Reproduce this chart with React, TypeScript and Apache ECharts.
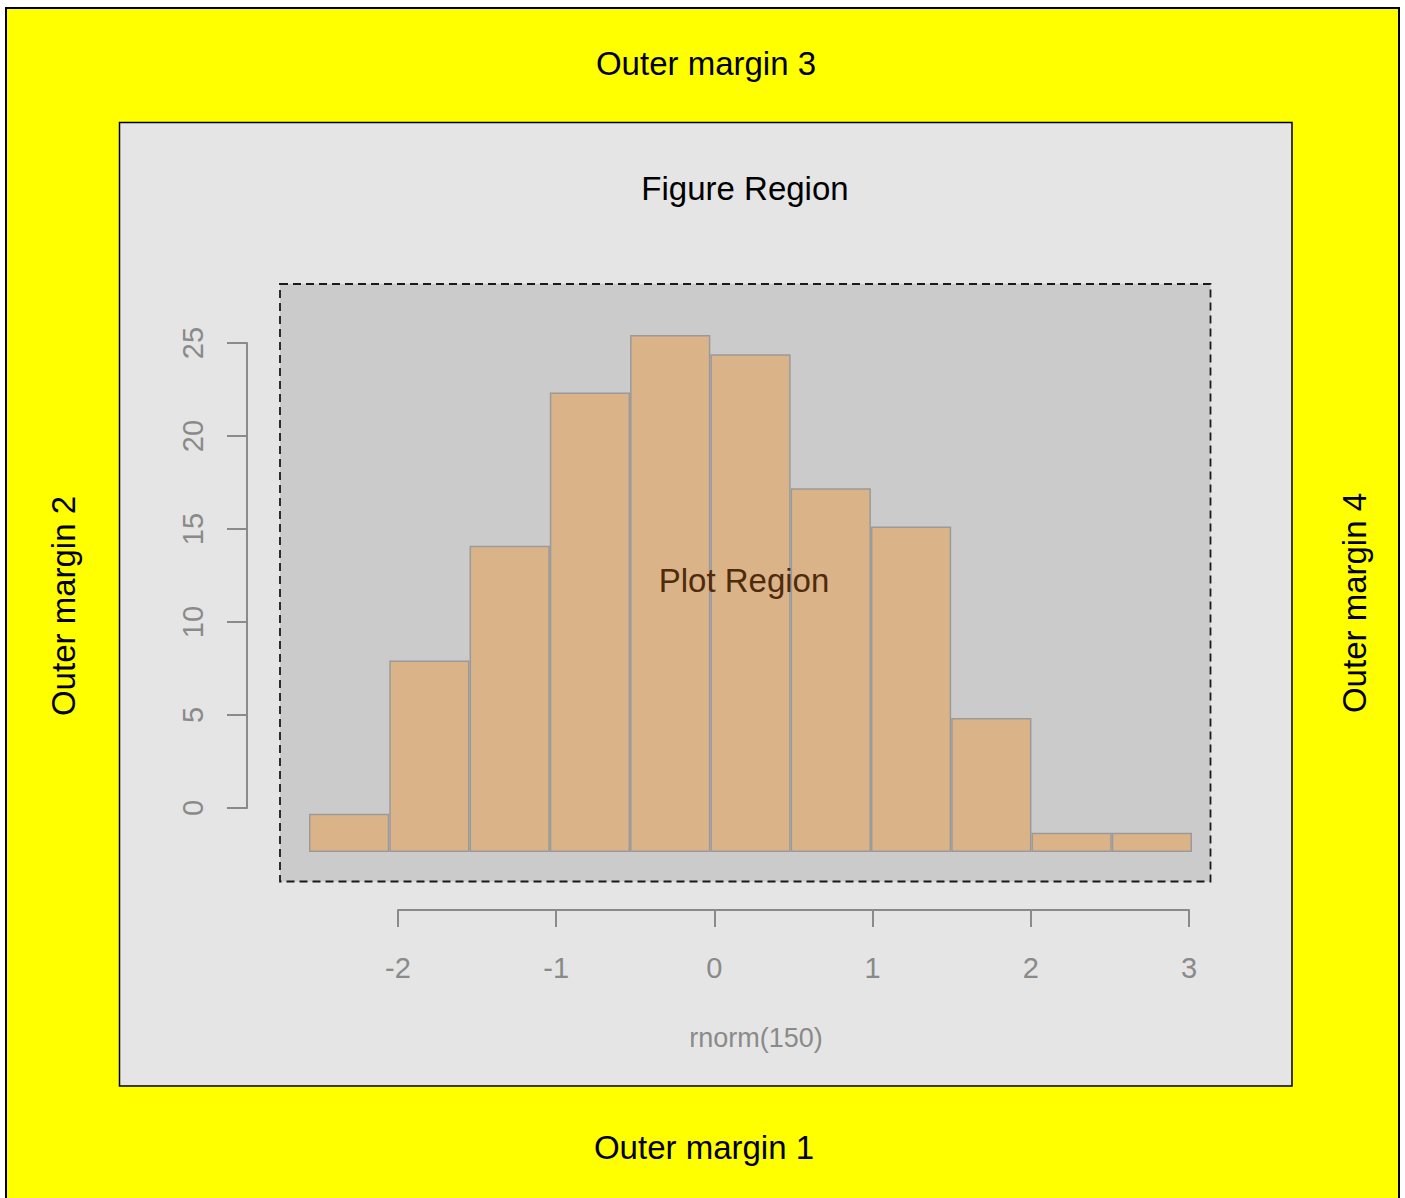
import React, { useEffect, useRef } from "react";
import * as echarts from "echarts";

// Histogram of rnorm(150): bins of width 0.5 from -2.5 to 3.0
const binLabels = ["-2.5", "-2.0", "-1.5", "-1.0", "-0.5", "0.0", "0.5", "1.0", "1.5", "2.0", "2.5"];
const counts = [2, 10, 16, 24, 27, 26, 19, 17, 7, 1, 1];
const xTickMin = -2;
const xTickMax = 3;
const yTickMin = 0;
const yTickMax = 25;
const xName = "rnorm(150)";

const FONT = "'Liberation Sans', Arial, Helvetica, sans-serif";
const AXIS_GRAY = "#8a8a8a";

export default function App() {
  const ref = useRef<HTMLDivElement>(null);

  useEffect(() => {
    if (!ref.current) return;
    const chart = echarts.init(ref.current, null, { renderer: "svg" });

    const option: any = {
      animation: false,
      backgroundColor: "#ffffff",
      grid: [
        // axes grid (R-style offset axes)
        { left: 398, right: 216, top: 343, bottom: 390 },
        // bars grid
        { left: 309, right: 213, top: 335, bottom: 346 },
      ],
      xAxis: [
        {
          gridIndex: 0,
          type: "value",
          min: xTickMin,
          max: xTickMax,
          interval: 1,
          offset: 102,
          axisLine: { show: true, onZero: false, lineStyle: { color: AXIS_GRAY, width: 2 } },
          axisTick: { show: true, length: 17, lineStyle: { color: AXIS_GRAY, width: 2 } },
          axisLabel: { color: AXIS_GRAY, fontSize: 29, fontFamily: FONT, margin: 43 },
          splitLine: { show: false },
        },
        {
          gridIndex: 1,
          type: "category",
          data: binLabels,
          show: false,
        },
      ],
      yAxis: [
        {
          gridIndex: 0,
          type: "value",
          min: yTickMin,
          max: yTickMax,
          interval: 5,
          offset: 151,
          axisLine: { show: true, onZero: false, lineStyle: { color: AXIS_GRAY, width: 2 } },
          axisTick: { show: true, length: 20, lineStyle: { color: AXIS_GRAY, width: 2 } },
          axisLabel: { color: AXIS_GRAY, fontSize: 29, fontFamily: FONT, rotate: 90, margin: 40 },
          splitLine: { show: false },
        },
        {
          gridIndex: 1,
          type: "value",
          min: 0,
          max: 27,
          show: false,
          splitLine: { show: false },
        },
      ],
      series: [
        {
          type: "bar",
          xAxisIndex: 1,
          yAxisIndex: 1,
          data: counts,
          barCategoryGap: "0%",
          barGap: "0%",
          itemStyle: { color: "#dab388", borderColor: "#9a9a9a", borderWidth: 1.5 },
          z: 5,
        },
      ],
      graphic: [
        {
          type: "rect",
          z: -30,
          shape: { x: 6, y: 8, width: 1393, height: 1200 },
          style: { fill: "#ffff00", stroke: "#000000", lineWidth: 2 },
        },
        {
          type: "rect",
          z: -20,
          shape: { x: 119.5, y: 122.5, width: 1172.5, height: 963.5 },
          style: { fill: "#e5e5e5", stroke: "#000000", lineWidth: 1.5 },
        },
        {
          type: "rect",
          z: -10,
          shape: { x: 280, y: 284, width: 930.5, height: 597.5 },
          style: { fill: "#cbcbcb", stroke: "#1a1a1a", lineWidth: 1.8, lineDash: [8, 5] },
        },
        {
          type: "text",
          z: 100,
          x: 706,
          y: 63,
          style: { text: "Outer margin 3", fill: "#000", font: `33px ${FONT}`, align: "center", verticalAlign: "middle" },
        },
        {
          type: "text",
          z: 100,
          x: 745,
          y: 188,
          style: { text: "Figure Region", fill: "#000", font: `33px ${FONT}`, align: "center", verticalAlign: "middle" },
        },
        {
          type: "text",
          z: 100,
          x: 744,
          y: 580,
          style: { text: "Plot Region", fill: "#4f2b0c", font: `33px ${FONT}`, align: "center", verticalAlign: "middle" },
        },
        {
          type: "text",
          z: 100,
          x: 704,
          y: 1147,
          style: { text: "Outer margin 1", fill: "#000", font: `33px ${FONT}`, align: "center", verticalAlign: "middle" },
        },
        {
          type: "text",
          z: 100,
          x: 63,
          y: 606,
          rotation: Math.PI / 2,
          style: { text: "Outer margin 2", fill: "#000", font: `33px ${FONT}`, align: "center", verticalAlign: "middle" },
        },
        {
          type: "text",
          z: 100,
          x: 1354,
          y: 603,
          rotation: Math.PI / 2,
          style: { text: "Outer margin 4", fill: "#000", font: `33px ${FONT}`, align: "center", verticalAlign: "middle" },
        },
        {
          type: "text",
          z: 100,
          x: 756,
          y: 1038,
          style: { text: xName, fill: AXIS_GRAY, font: `27px ${FONT}`, align: "center", verticalAlign: "middle" },
        },
      ],
    };

    chart.setOption(option);
    return () => chart.dispose();
  }, []);

  return (
    <div
      ref={ref}
      style={{ position: "absolute", left: 0, top: 0, width: 1405, height: 1198 }}
    />
  );
}
